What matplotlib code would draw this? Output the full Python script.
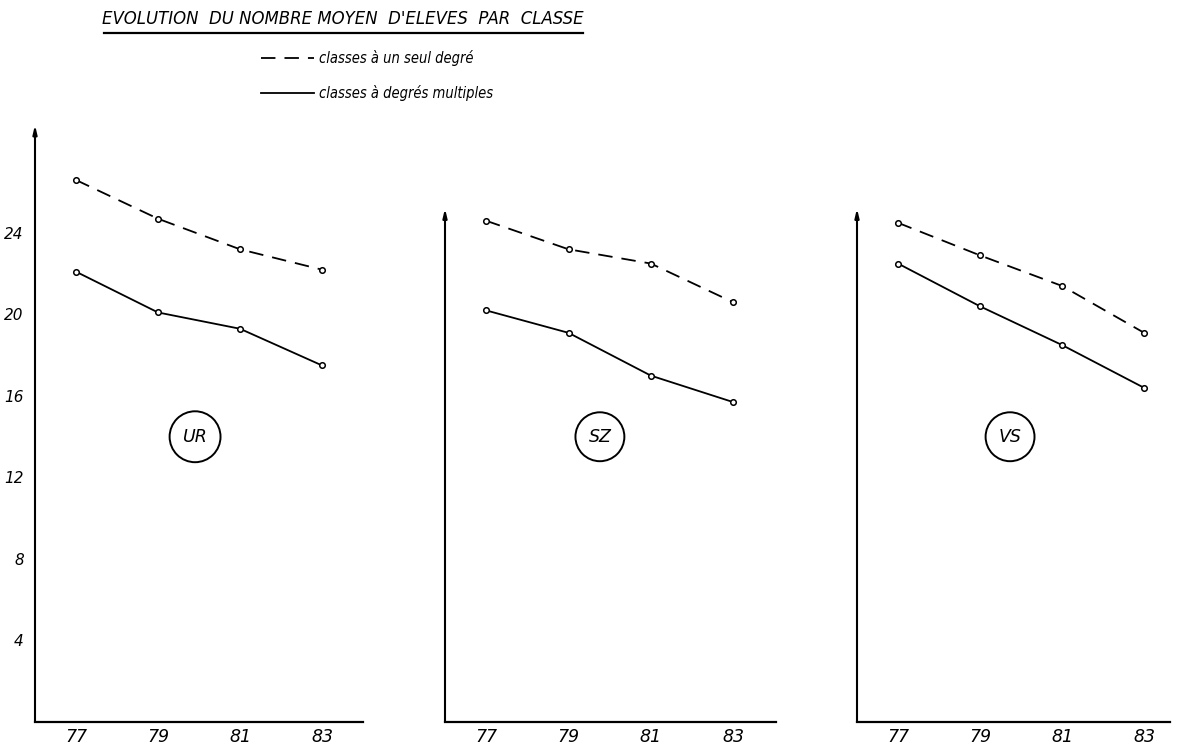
import matplotlib
matplotlib.use('Agg')
import matplotlib.pyplot as plt
from matplotlib.lines import Line2D

# donnees (nombre moyen d'eleves par classe)
years = [77, 79, 81, 83]
yticks = [4, 8, 12, 16, 20, 24]
regions = ['UR', 'SZ', 'VS']

ur_seul = [26.6, 24.7, 23.2, 22.2]
ur_multi = [22.1, 20.1, 19.3, 17.5]
sz_seul = [24.6, 23.2, 22.5, 20.6]
sz_multi = [20.2, 19.1, 17.0, 15.7]
vs_seul = [24.5, 22.9, 21.4, 19.1]
vs_multi = [22.5, 20.4, 18.5, 16.4]

seul = [ur_seul, sz_seul, vs_seul]
multi = [ur_multi, sz_multi, vs_multi]

title = "EVOLUTION  DU NOMBRE MOYEN  D'ELEVES  PAR  CLASSE"
lab_seul = "classes à un seul degré"
lab_multi = "classes à degrés multiples"

plt.rcParams['font.family'] = ['DejaVu Sans']
W, H = 1177, 747
fig = plt.figure(figsize=(W / 100, H / 100), dpi=100)
fig.patch.set_facecolor('white')

# position des axes en pixels (gauche, largeur, xmax)
boxes = [(35, 328, 84.0), (445, 331, 84.04), (857, 313, 83.63)]
arrow_top = [29.3, 25.2, 25.2]
ytop = 29.3
bottom_px, top_px = 25, 722 - 125

for i in range(3):
    x0, w, xmax = boxes[i]
    ax = fig.add_axes([x0 / W, bottom_px / H, w / W, top_px / H])
    ax.set_xlim(76.0, xmax)
    ax.set_ylim(0, ytop)
    ax.patch.set_alpha(0)
    for s in ['top', 'right', 'left']:
        ax.spines[s].set_visible(False)
    ax.spines['bottom'].set_linewidth(1.6)

    ax.annotate('', xy=(0, arrow_top[i]), xytext=(0, 0),
                xycoords=('axes fraction', 'data'),
                arrowprops=dict(arrowstyle='-|>,head_length=0.5,head_width=0.12',
                                lw=1.5, color='black', shrinkA=0, shrinkB=0),
                annotation_clip=False)

    ax.plot(years, seul[i], color='black', lw=1.3, dashes=(8, 5),
            marker='o', ms=4, mfc='white', mec='black', mew=1.1)
    ax.plot(years, multi[i], color='black', lw=1.3,
            marker='o', ms=4, mfc='white', mec='black', mew=1.1)

    ax.set_xticks(years)
    ax.set_xticklabels([str(y) for y in years], fontsize=12.5, style='italic')
    ax.tick_params(axis='x', length=0, pad=4)
    if i == 0:
        ax.set_yticks(yticks)
        ax.set_yticklabels([str(t) for t in yticks], fontsize=11, style='italic')
        ax.tick_params(axis='y', length=0, pad=8)
    else:
        ax.set_yticks([])

    cx = [0.488, 0.468, 0.489][i]
    ax.text(cx, 14.0 / ytop, regions[i], transform=ax.transAxes,
            ha='center', va='center', fontsize=12.5, style='italic',
            bbox=dict(boxstyle='circle,pad=0.75', fc='white', ec='black', lw=1.4))

# titre souligne
fig.text(343 / W, 1 - 19 / H, title, ha='center', va='center',
         fontsize=13.2, style='italic', fontstretch='condensed')
fig.add_artist(Line2D([104 / W, 583 / W], [1 - 33 / H, 1 - 33 / H],
                      color='black', lw=1.6))

# legende
handles = [Line2D([], [], color='black', lw=1.3, dashes=(8, 5)),
           Line2D([], [], color='black', lw=1.3)]
fig.legend(handles, [lab_seul, lab_multi], loc='upper left',
           bbox_to_anchor=(248 / W, 1 - 37 / H), frameon=False,
           handlelength=3.6, handletextpad=0.4, labelspacing=1.3,
           prop={'size': 10.5, 'style': 'italic', 'stretch': 'condensed'})

fig.savefig('out.png', dpi=100, facecolor='white')
